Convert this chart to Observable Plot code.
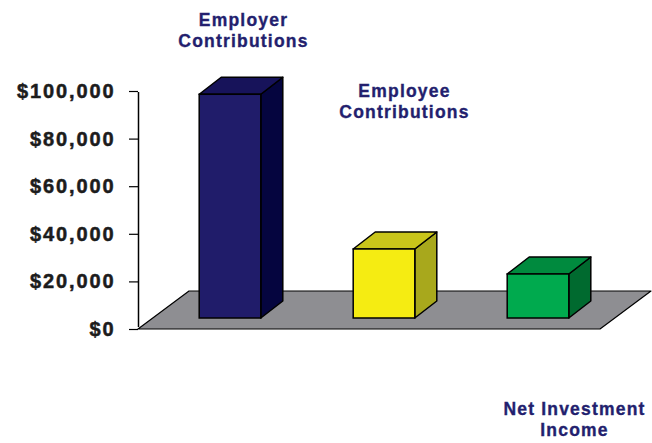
<!DOCTYPE html>
<html>
<head>
<meta charset="utf-8">
<script src="https://cdn.jsdelivr.net/npm/d3@7"></script>
<script src="https://cdn.jsdelivr.net/npm/@observablehq/plot@0.6"></script>
<style>
  html, body { margin: 0; padding: 0; background: #fff; }
  #chart svg { display: block; }
  g[aria-label="y-axis tick label"] text { letter-spacing: 1.9px; stroke: #1c1c1c; stroke-width: 0.5px; }
  g.catlabel text { letter-spacing: 1.2px; stroke: #231f6e; stroke-width: 0.35px; }
</style>
</head>
<body>
<div id="chart"></div>
<script>
// ---- data ----
const categories = ["Employer Contributions", "Employee Contributions", "Net Investment Income"];
const labelLines = ["Employer\nContributions", "Employee\nContributions", "Net Investment\nIncome"];
const values = [94000, 29000, 18500];
const tickValues = [0, 20000, 40000, 60000, 80000, 100000];
const frontColors = ["#201c6a", "#f5ec12", "#00aa4e"];
const topColors = ["#17135a", "#c9c51a", "#008a3e"];
const sideColors = ["#05053f", "#a8a81c", "#006a2f"];

// ---- layout / style ----
const W = 652, H = 443;
const mL = 138, mR = 52, mT = 91, mB = 114;
const n = categories.length;
const xDomain = [-0.5, n - 0.5];
const yDomain = [0, 100000];
const pxPerX = (W - mL - mR) / (xDomain[1] - xDomain[0]);
const pxPerY = (H - mT - mB) / (yDomain[1] - yDomain[0]);
const halfW = 0.2;
// oblique depth offsets in pixels
const barFront = {dx: 15, dy: -11};
const barDepth = {x: 22 / pxPerX, y: 17 / pxPerY};
const floorDepth = {x: 51 / pxPerX, y: 38 / pxPerY};

const bars = categories.map((c, i) => ({cat: c, i, v: values[i]}));
const sideData = bars.flatMap(b => [
  {cat: b.cat, x: b.i + halfW, y1: 0, y2: b.v},
  {cat: b.cat, x: b.i + halfW + barDepth.x, y1: barDepth.y, y2: b.v + barDepth.y}
]);
const topData = bars.flatMap(b => [
  {cat: b.cat, y: b.v, x1: b.i - halfW, x2: b.i + halfW},
  {cat: b.cat, y: b.v + barDepth.y, x1: b.i - halfW + barDepth.x, x2: b.i + halfW + barDepth.x}
]);
const floorData = [
  {y: 0, x1: xDomain[0], x2: xDomain[1]},
  {y: floorDepth.y, x1: xDomain[0] + floorDepth.x, x2: xDomain[1] + floorDepth.x}
];
const labelOffsets = [{dx: 28, dy: -318}, {dx: 35, dy: -247}, {dx: 51, dy: 71}];

const marks = [
  Plot.areaX(floorData, {y: "y", x1: "x1", x2: "x2", fill: "#8e8e92", stroke: "#000", strokeWidth: 1.2}),
  Plot.ruleX([xDomain[0]], {y1: yDomain[0], y2: yDomain[1], stroke: "#000", strokeWidth: 1.5, insetTop: -2, insetBottom: -1}),
  Plot.axisY({ticks: tickValues, tickFormat: d => "$" + d3.format(",")(d), tickSize: 9, tickPadding: 14,
    fontSize: 20, fontWeight: "bold", fill: "#1c1c1c", stroke: "#000", strokeWidth: 1.2, label: null}),
  Plot.areaY(sideData, {x: "x", y1: "y1", y2: "y2", z: "cat", fill: d => sideColors[categories.indexOf(d.cat)],
    stroke: "#000", strokeWidth: 1.5, dx: barFront.dx, dy: barFront.dy}),
  Plot.areaX(topData, {y: "y", x1: "x1", x2: "x2", z: "cat", fill: d => topColors[categories.indexOf(d.cat)],
    stroke: "#000", strokeWidth: 1.5, dx: barFront.dx, dy: barFront.dy}),
  Plot.rect(bars, {x1: d => d.i - halfW, x2: d => d.i + halfW, y1: 0, y2: "v",
    fill: d => frontColors[d.i], stroke: "#000", strokeWidth: 1.5, dx: barFront.dx, dy: barFront.dy}),
  ...bars.map((b, i) => Plot.text([b], {x: "i", y: 0, text: d => labelLines[d.i],
    dx: labelOffsets[i].dx, dy: labelOffsets[i].dy, lineAnchor: "top", lineHeight: 1.2,
    fontSize: 17.5, fontWeight: "bold", fill: "#231f6e", className: "catlabel"}))
];

const chart = Plot.plot({
  width: W, height: H,
  marginLeft: mL, marginRight: mR, marginTop: mT, marginBottom: mB,
  style: {fontFamily: "'Liberation Sans', Arial, sans-serif", background: "#fff", overflow: "visible"},
  x: {type: "linear", domain: xDomain, axis: null},
  y: {domain: yDomain, axis: null},
  color: {type: "identity"},
  marks
});
document.getElementById("chart").appendChild(chart);
</script>
</body>
</html>
